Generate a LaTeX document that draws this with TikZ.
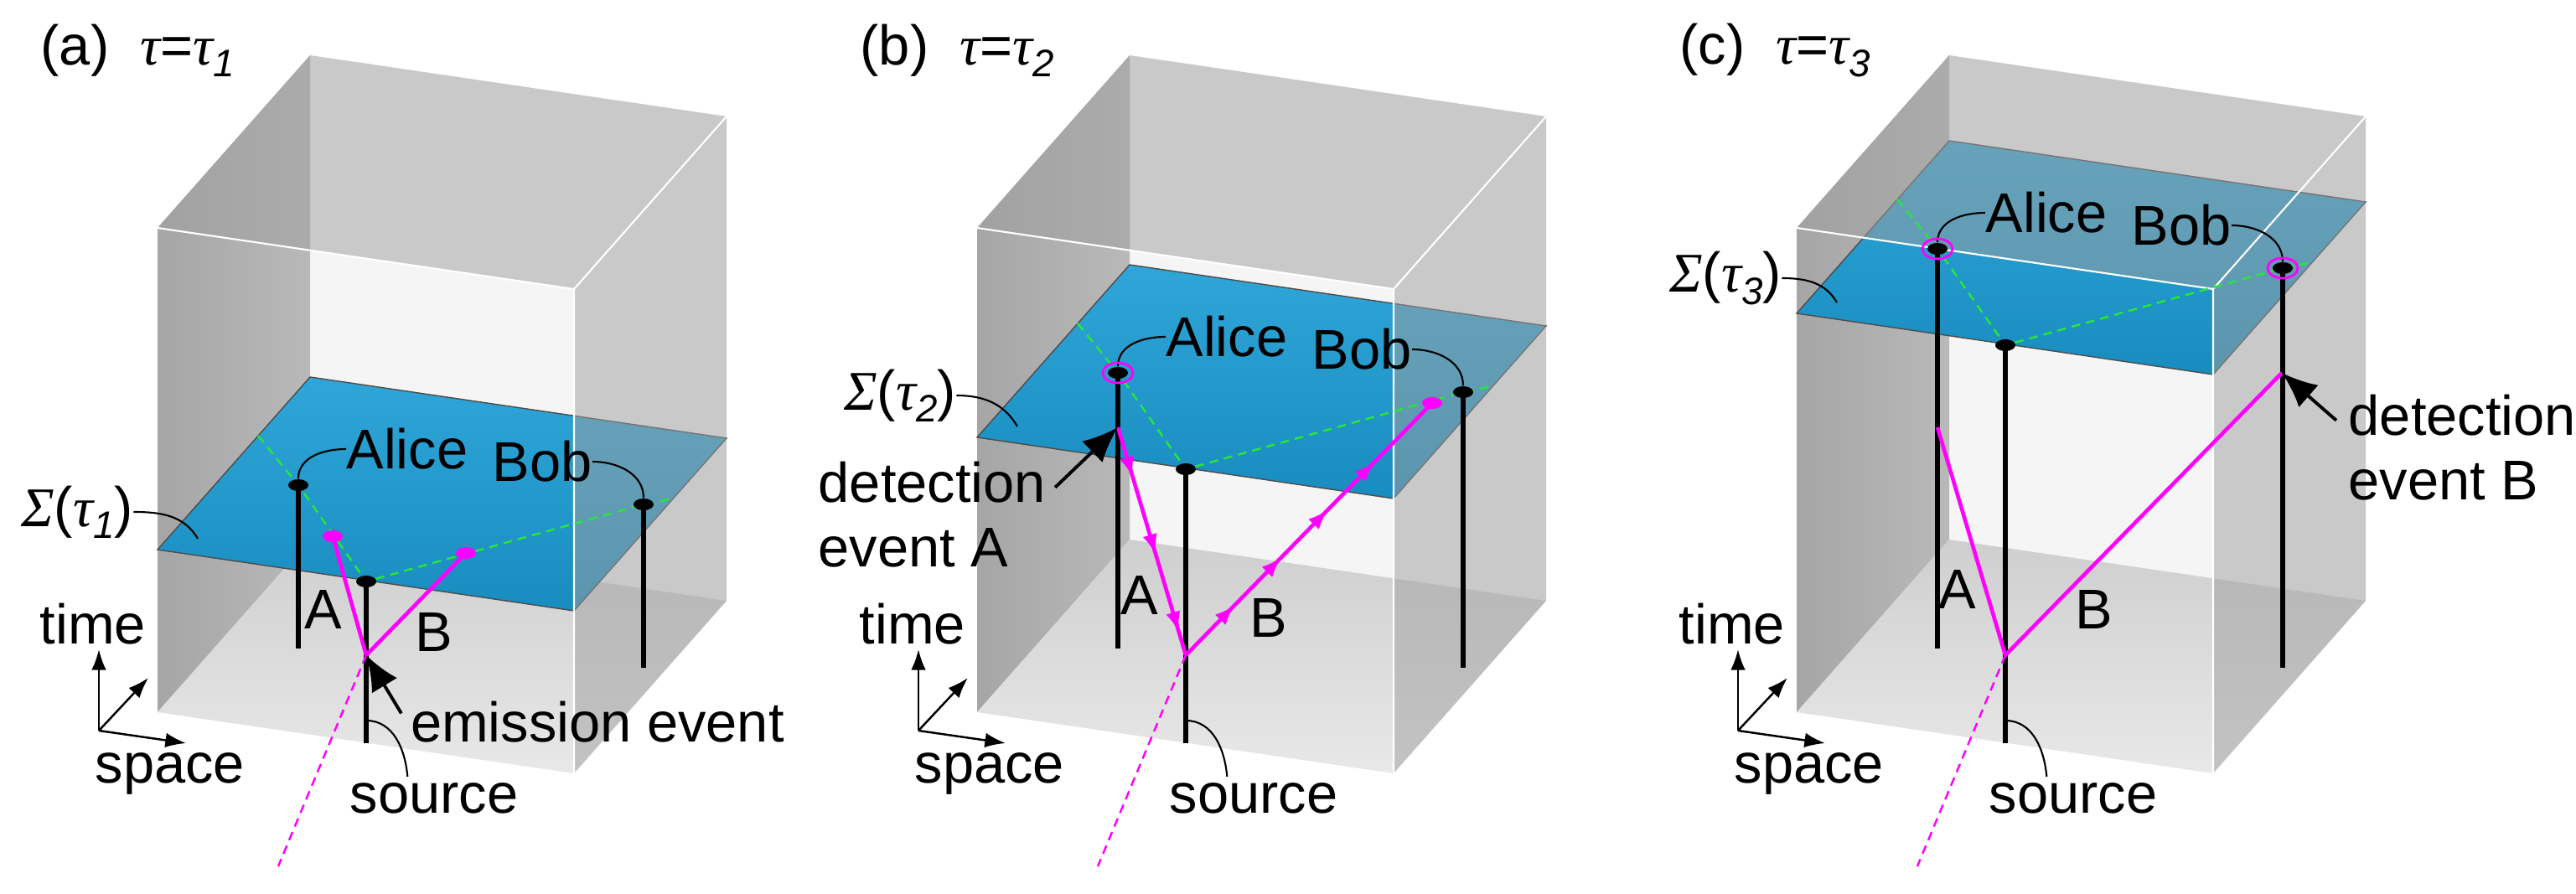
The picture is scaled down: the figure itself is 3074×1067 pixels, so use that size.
\documentclass[tikz,border=0pt]{standalone}
\usepackage{fontspec}
\setmainfont{Liberation Sans}
\newfontfamily\gkfont{Liberation Serif}
\usetikzlibrary{arrows.meta,shapes.geometric,decorations.markings}
\definecolor{planetop}{RGB}{48,166,216}
\definecolor{planebot}{RGB}{24,140,190}
\definecolor{mag}{RGB}{255,0,255}
\definecolor{surfgreen}{RGB}{40,230,60}
\newcommand\gk[1]{{\gkfont\itshape #1}}
\newcommand\tsub[1]{\gk{τ}\raisebox{-0.4ex}{\fontsize{13}{13}\selectfont\itshape #1}}
\tikzset{
  lbl/.style={font=\fontsize{19}{22}\selectfont, inner sep=0pt},
  leader/.style={line width=0.6pt},
  wline/.style={line width=1.5pt},
  ray/.style={line width=1.3pt, mag},
  cone/.style={line width=0.7pt, mag, dash pattern=on 3pt off 2pt},
  surf/.style={line width=0.7pt, surfgreen, dash pattern=on 3pt off 2pt},
  dot/.style={ellipse, fill=black, inner sep=0pt, minimum width=0.24cm, minimum height=0.14cm},
  mdot/.style={dot, fill=mag},
  ring/.style={ellipse, draw=mag, line width=0.8pt, inner sep=0pt, minimum width=0.36cm, minimum height=0.24cm},
  bigarrow/.style={line width=1.1pt, -{Latex[length=12pt,width=10pt]}},
  glass/.style={fill=gray!75, fill opacity=0.5},
  axis/.style={line width=0.7pt, -{Latex[length=7pt,width=5pt]}},
}
% box faces behind the plane
\newcommand\boxback{
  \coordinate (fbl) at (0,0);     \coordinate (fbr) at (497,73);
  \coordinate (ftl) at (0,-578);  \coordinate (ftr) at (497,-505);
  \coordinate (bbl) at (182,-206);\coordinate (bbr) at (679,-133);
  \coordinate (btl) at (182,-784);\coordinate (btr) at (679,-711);
  \fill[gray!8] (btl) -- (btr) -- (bbr) -- (bbl) -- cycle;
  \shade[left color=gray!70, right color=gray!55] (ftl) -- (btl) -- (bbl) -- (fbl) -- cycle;
  \shade[top color=gray!38, bottom color=gray!18] (fbl) -- (fbr) -- (bbr) -- (bbl) -- cycle;
}
% glass faces in front
\newcommand\boxfront{
  \fill[glass] (ftr) -- (btr) -- (bbr) -- (fbr) -- cycle;
  \fill[glass] (ftl) -- (ftr) -- (btr) -- (btl) -- cycle;
  \draw[white, line width=0.6pt] (ftl) -- (ftr) -- (fbr) (ftr) -- (btr);
}
% hypersurface at height #1
\newcommand\plane[1]{
  \shade[top color=planetop, bottom color=planebot, draw=black!70, line width=0.4pt]
    (0,-#1) -- (497,73-#1) -- (679,-133-#1) -- (182,-206-#1) -- cycle;
  \coordinate (gl) at (120,-136-#1);
  \coordinate (gr) at (615,-61-#1);
  \coordinate (alice) at (168,-77-#1);
  \coordinate (src) at (249,38-#1);
  \coordinate (bob) at (580,-54-#1);
  \coordinate (emit) at (249,-68);
}
% worldlines and common labels, plane height #1
\newcommand\worldlines[1]{
  \draw[surf] (gl) -- (alice) -- (src) -- (bob) -- (gr);
  \draw[wline] (168,-76) -- (alice);
  \draw[wline] (249,37) -- (src);
  \draw[wline] (580,-53) -- (bob);
  \node[dot] (alicedot) at (alice) {};
  \node[dot] (srcdot) at (src) {};
  \node[dot] (bobdot) at (bob) {};
  \coordinate (conend) at (144,184);
  \draw[cone] (emit) -- (conend);
  \node[lbl] (alicelbl) at (298,-120-#1) {Alice};
  \node[lbl] (boblbl) at (459,-105-#1) {Bob};
  \draw[leader] (alicedot.north) to[out=90,in=180] (alicelbl.west);
  \draw[leader] (boblbl.east) to[out=0,in=90] (bobdot.north);
  \node[lbl] (srclbl) at (330,103) {source};
  \coordinate (srcpt) at (249,10);
  \draw[leader] (srcpt) to[out=0,in=95] ([xshift=-9pt,yshift=2pt]srclbl.north);
  \coordinate (sigpt) at (48,-13-#1);
  \coordinate (ax) at (-70,22);
  \coordinate (axt) at (-70,-75);
  \coordinate (axs) at (34,37);
  \coordinate (axd) at (-11,-41);
  \draw[axis] (ax) -- (axt);
  \draw[axis] (ax) -- (axs);
  \draw[axis] (ax) -- (axd);
  \node[lbl] (timelbl) at (-77,-105) {time};
  \node[lbl] (spacelbl) at (15,73) {space};
}
\begin{document}
\begin{tikzpicture}[x=0.01cm, y=-0.01cm]
\useasboundingbox (0,0) rectangle (3074,1067);
\fill[white] (0,0) rectangle (3074,1067);

% (a)
\begin{scope}[shift={(188,850)}]
  \boxback
  \plane{194}
  \boxfront
  \worldlines{194}
  \coordinate (mA) at (209,-210);
  \coordinate (mB) at (368,-190);
  \draw[ray] (mA) -- (emit) -- (mB);
  \node[mdot] (mAdot) at (mA) {};
  \node[mdot] (mBdot) at (mB) {};
  \node[lbl] (Albl) at (198,-122) {A};
  \node[lbl] (Blbl) at (330,-95) {B};
  \node[lbl] (emitlbl) at (525,12) {emission event};
  \draw[bigarrow] ([xshift=-3pt,yshift=3pt]emitlbl.west) -- (emit);
  \node[lbl] (siglbl) at (-96,-239) {\gk{Σ}(\tsub{1})};
  \draw[leader] (siglbl.east) to[out=0,in=120] (sigpt);
  \node[lbl, anchor=west] (title) at (-140,-790) {(a)\ \ \gk{τ}=\tsub{1}};
\end{scope}

% (b)
\begin{scope}[shift={(1166,850)}]
  \boxback
  \plane{328}
  \boxfront
  \worldlines{328}
  \coordinate (detA) at (168,-340);
  \coordinate (mB) at (543,-369);
  \draw[ray, decoration={markings, mark=between positions 0.22 and 0.9 step 0.34 with {\arrow{Latex[length=7pt,width=5pt]}}}, postaction={decorate}] (detA) -- (emit);
  \draw[ray, decoration={markings, mark=between positions 0.2 and 0.95 step 0.19 with {\arrow{Latex[length=7pt,width=5pt]}}}, postaction={decorate}] (emit) -- (mB);
  \node[mdot] (mBdot) at (mB) {};
  \node[ring] (alicering) at (alice) {};
  \node[lbl] (Albl) at (194,-139) {A};
  \node[lbl] (Blbl) at (348,-112) {B};
  \node[lbl, anchor=west, align=left] (detAlbl) at (-190,-236) {detection\\event A};
  \draw[bigarrow] ([xshift=3pt,yshift=-9pt]detAlbl.north east) -- (detA);
  \node[lbl] (siglbl) at (-92,-378) {\gk{Σ}(\tsub{2})};
  \draw[leader] (siglbl.east) to[out=0,in=120] (sigpt);
  \node[lbl, anchor=west] (title) at (-140,-790) {(b)\ \ \gk{τ}=\tsub{2}};
\end{scope}

% (c)
\begin{scope}[shift={(2144,850)}]
  \boxback
  \plane{476}
  \boxfront
  \worldlines{476}
  \coordinate (mA) at (168,-340);
  \coordinate (detB) at (579,-405);
  \draw[ray] (mA) -- (emit) -- (detB);
  \node[ring] (alicering) at (alice) {};
  \node[ring] (bobring) at (bob) {};
  \node[lbl] (Albl) at (192,-146) {A};
  \node[lbl] (Blbl) at (355,-122) {B};
  \node[lbl, anchor=west, align=left] (detBlbl) at (658,-316) {detection\\event B};
  \draw[bigarrow] ([xshift=-4pt,yshift=-9pt]detBlbl.north west) -- (detB);
  \node[lbl] (siglbl) at (-85,-518) {\gk{Σ}(\tsub{3})};
  \draw[leader] (siglbl.east) to[out=0,in=120] (sigpt);
  \node[lbl, anchor=west] (title) at (-140,-790) {(c)\ \ \gk{τ}=\tsub{3}};
\end{scope}
\end{tikzpicture}
\end{document}
